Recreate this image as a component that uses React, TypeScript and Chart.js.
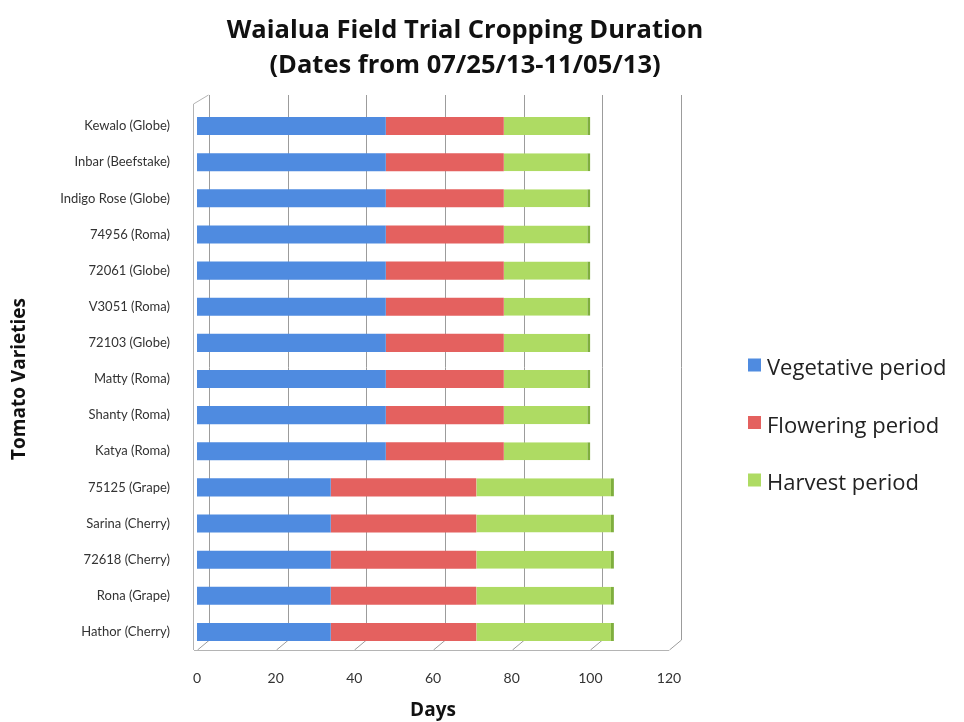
import React, { useEffect, useRef } from "react";
import { Chart, registerables } from "chart.js";

Chart.register(...registerables);

const categories = [
  "Kewalo (Globe)",
  "Inbar (Beefstake)",
  "Indigo Rose (Globe)",
  "74956 (Roma)",
  "72061 (Globe)",
  "V3051 (Roma)",
  "72103 (Globe)",
  "Matty (Roma)",
  "Shanty (Roma)",
  "Katya (Roma)",
  "75125 (Grape)",
  "Sarina (Cherry)",
  "72618 (Cherry)",
  "Rona (Grape)",
  "Hathor (Cherry)",
];

const vegetative = [48, 48, 48, 48, 48, 48, 48, 48, 48, 48, 34, 34, 34, 34, 34];
const flowering = [30, 30, 30, 30, 30, 30, 30, 30, 30, 30, 37, 37, 37, 37, 37];
const harvest = [22, 22, 22, 22, 22, 22, 22, 22, 22, 22, 35, 35, 35, 35, 35];

const seriesNames = ["Vegetative period", "Flowering period", "Harvest period"];
const seriesColors = ["#4f8be0", "#e4615f", "#aedb63"];
const titleLines = ["Waialua Field Trial Cropping Duration", "(Dates from 07/25/13-11/05/13)"];
const xTicks = [0, 20, 40, 60, 80, 100, 120];

const LATO = "Lato, 'Open Sans', sans-serif";
const OPEN = "'Open Sans', Lato, sans-serif";

const titlePlugin = {
  id: "twoLineTitle",
  afterDraw(chart: any) {
    const ctx = chart.ctx;
    ctx.save();
    ctx.fillStyle = "#111";
    ctx.font = `bold 25.5px ${OPEN}`;
    ctx.textAlign = "center";
    ctx.textBaseline = "middle";
    titleLines.forEach((line, i) => {
      ctx.fillText(line, 465, 31 + i * 35);
    });
    ctx.restore();
  },
};

const legendPlugin = {
  id: "sideLegend",
  afterDraw(chart: any) {
    const ctx = chart.ctx;
    ctx.save();
    ctx.font = `22px ${OPEN}`;
    ctx.textBaseline = "middle";
    ctx.textAlign = "left";
    chart.data.datasets.forEach((ds: any, i: number) => {
      const cy = 365 + i * 57.5;
      ctx.fillStyle = ds.backgroundColor;
      ctx.fillRect(748, cy - 6.5, 13, 13);
      ctx.fillStyle = "#222";
      ctx.fillText(ds.label, 767, cy + 4);
    });
    ctx.restore();
  },
};

// Light 3D-style frame: back-wall grid lines derived from the x scale's tick pixels
const framePlugin = {
  id: "frame3d",
  beforeDatasetsDraw(chart: any) {
    const ctx = chart.ctx;
    const xs = chart.scales.x;
    const { top, bottom, left, right } = chart.chartArea;
    const DX = 12;
    const DY = 10;
    const TOPX = 13;
    ctx.save();
    ctx.lineWidth = 1;
    ctx.strokeStyle = "#9c9c9c";
    ctx.beginPath();
    xTicks.forEach((v) => {
      const fx = Math.round(xs.getPixelForValue(v)) + 0.5;
      const bx = fx + DX;
      ctx.moveTo(bx, top - TOPX);
      ctx.lineTo(bx, bottom - DY);
      ctx.lineTo(fx, bottom);
    });
    ctx.stroke();
    ctx.strokeStyle = "#b4b4b4";
    ctx.beginPath();
    const fb = Math.round(bottom) + 0.5;
    ctx.moveTo(left - 3, fb);
    ctx.lineTo(right, fb);
    const lx = Math.round(left) - 3.5;
    ctx.moveTo(lx, top - 4);
    ctx.lineTo(lx, bottom);
    ctx.moveTo(lx, top - 4);
    ctx.lineTo(lx + DX + 3, top - TOPX);
    ctx.stroke();
    ctx.restore();
  },
};

export default function App() {
  const ref = useRef<HTMLCanvasElement | null>(null);

  useEffect(() => {
    if (!ref.current) return;
    const chart = new Chart(ref.current, {
      type: "bar",
      data: {
        labels: categories,
        datasets: [
          { label: seriesNames[0], data: vegetative, backgroundColor: seriesColors[0] },
          { label: seriesNames[1], data: flowering, backgroundColor: seriesColors[1] },
          {
            label: seriesNames[2],
            data: harvest,
            backgroundColor: seriesColors[2],
            borderColor: "#7fae3e",
            borderWidth: { top: 0, bottom: 0, left: 0, right: 3 },
            borderSkipped: false,
          },
        ],
      },
      options: {
        indexAxis: "y",
        animation: false,
        responsive: true,
        maintainAspectRatio: false,
        layout: { padding: { left: 8, right: 295, top: 108, bottom: 0 } },
        datasets: {
          bar: { barPercentage: 0.5, categoryPercentage: 1 },
        },
        scales: {
          x: {
            stacked: true,
            min: 0,
            max: 120,
            afterBuildTicks: (axis: any) => {
              axis.ticks = xTicks.map((v) => ({ value: v }));
            },
            afterFit: (axis: any) => {
              axis.height = 72;
            },
            grid: { display: false, drawTicks: false },
            border: { display: false },
            ticks: { color: "#333", font: { family: LATO, size: 14 }, padding: 20 },
            title: {
              display: true,
              text: "Days",
              color: "#111",
              font: { family: OPEN, size: 19, weight: "bold" },
              padding: { top: 13, bottom: 0 },
            },
          },
          y: {
            stacked: true,
            afterFit: (axis: any) => {
              axis.width = 189;
            },
            grid: { display: false },
            border: { display: false },
            ticks: { color: "#333", font: { family: LATO, size: 13 }, padding: 19 },
            title: {
              display: true,
              text: "Tomato Varieties",
              color: "#111",
              font: { family: OPEN, size: 19, weight: "bold" },
              padding: { top: 0, bottom: 0 },
            },
          },
        },
        plugins: {
          title: { display: false },
          legend: { display: false },
          tooltip: { enabled: false },
        },
      },
      plugins: [framePlugin, titlePlugin, legendPlugin],
    });
    return () => chart.destroy();
  }, []);

  return (
    <div style={{ position: "absolute", left: 0, top: 0, width: 964, height: 722 }}>
      <canvas ref={ref} />
    </div>
  );
}
